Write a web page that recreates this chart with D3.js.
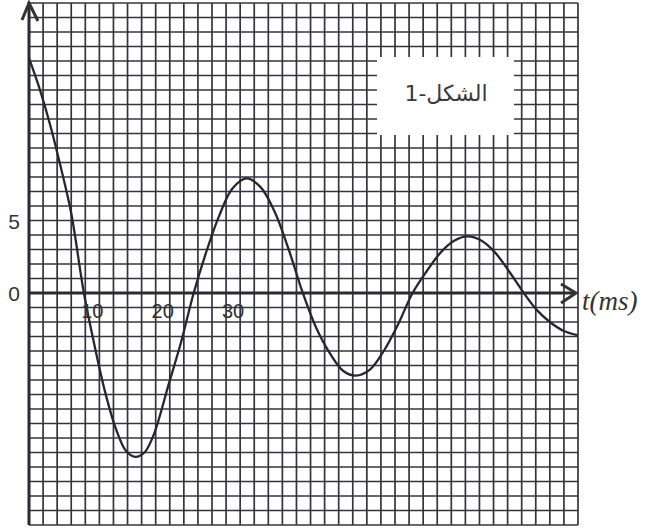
<!DOCTYPE html>
<html><head><meta charset="utf-8">
<script src="https://cdn.jsdelivr.net/npm/d3@7"></script>
<style>
html,body{margin:0;padding:0;background:#fff;}
svg{display:block;}
</style></head>
<body>
<script>
// ---- data ----
const tValues = [0, 1.5, 3.0, 4.5, 6.0, 7.8, 9.3, 10.8, 12.3, 13.8, 15.1, 16.4, 17.7, 19.9, 21.6, 23.4,
  25.3, 27.0, 28.9, 30.9, 32.9, 34.9, 36.9, 38.9, 40.8, 42.8, 44.7, 46.4, 48.4, 50.4, 52.4, 54.5,
  56.5, 58.5, 60.4, 62.3, 64.3, 66.2, 68.2, 70.3, 72.2, 74.0, 75.9, 77.9];
const vValues = [16.2, 14.1, 11.6, 8.7, 5.5, 0, -3.6, -6.8, -9.3, -10.9, -11.3, -11.0, -9.8, -6.2, -3.4, 0,
  3.0, 5.3, 7.2, 7.9, 7.3, 5.6, 3.0, 0, -2.4, -4.2, -5.4, -5.7, -5.3, -4.0, -2.2, 0,
  1.5, 2.8, 3.6, 3.9, 3.6, 2.8, 1.5, 0, -1.2, -2.0, -2.6, -2.9];
const xTickLabels = ["10", "20", "30"];
const xTickValues = [10, 20, 30];
const yTickLabels = ["5", "0"];
const yTickValues = [5, 0];
const xAxisTitle = "t(ms)";
const figureLabel = "الشكل-1";

// ---- layout ----
const W = 653, H = 530;
const svg = d3.select("body").append("svg").attr("width", W).attr("height", H);
svg.append("rect").attr("width", W).attr("height", H).attr("fill", "#fff");

const x = d3.scaleLinear().domain([0, 78]).range([29, 578]);
const y = d3.scaleLinear().domain([-16, 20]).range([525, 3]);

const gridColor = "#34343e";
const grid = svg.append("g");
grid.selectAll("line.v").data(d3.range(0, 78.01, 2)).join("line")
  .attr("x1", d => x(d)).attr("x2", d => x(d))
  .attr("y1", y(20)).attr("y2", y(-16))
  .attr("stroke", gridColor).attr("stroke-width", 1.7);
grid.selectAll("line.h").data(d3.range(-16, 20.01, 1)).join("line")
  .attr("x1", x(0)).attr("x2", x(78))
  .attr("y1", d => y(d)).attr("y2", d => y(d))
  .attr("stroke", gridColor).attr("stroke-width", 1.7);

// white label box
svg.append("rect").attr("x", 377).attr("y", 57).attr("width", 137).attr("height", 78).attr("fill", "#fff");
svg.append("text").attr("x", 446).attr("y", 101)
  .attr("text-anchor", "middle").attr("direction", "rtl")
  .style("font-family", "'DejaVu Sans', 'Noto Sans', sans-serif").style("font-size", "22px").attr("fill", "#3a3a3a")
  .text(figureLabel);

// axes
const axisColor = "#2a2a35";
svg.append("line").attr("x1", x(0)).attr("x2", x(0)).attr("y1", y(-16)).attr("y2", y(20) - 1)
  .attr("stroke", axisColor).attr("stroke-width", 3);
svg.append("line").attr("x1", x(0)).attr("x2", x(78) - 2).attr("y1", y(0)).attr("y2", y(0))
  .attr("stroke", axisColor).attr("stroke-width", 3);
svg.append("path").attr("d", `M${x(0) - 7},${y(20) + 17} L${x(0)},${y(20)} L${x(0) + 9},${y(20) + 18}`)
  .attr("fill", "none").attr("stroke", "#333").attr("stroke-width", 3);
svg.append("path").attr("d", `M${x(78) - 17},${y(0) - 9} L${x(78) - 2},${y(0)} L${x(78) - 17},${y(0) + 10}`)
  .attr("fill", "none").attr("stroke", "#333").attr("stroke-width", 3);

// curve
const pts = tValues.map((t, i) => [t, vValues[i]]);
svg.append("path").datum(pts)
  .attr("d", d3.line().x(d => x(d[0])).y(d => y(d[1])).curve(d3.curveCatmullRom.alpha(0.5)))
  .attr("fill", "none").attr("stroke", "#26262e").attr("stroke-width", 2.3);

// tick labels
const lblFont = "'Liberation Sans', Arial, sans-serif";
svg.selectAll("text.xt").data(xTickValues).join("text")
  .attr("x", d => x(d) + 4).attr("y", 318).attr("text-anchor", "end")
  .style("font-family", lblFont).style("font-size", "20px").attr("fill", "#333")
  .text((d, i) => xTickLabels[i]);
svg.selectAll("text.yt").data(yTickValues).join("text")
  .attr("x", 14).attr("y", d => y(d) + 8).attr("text-anchor", "middle")
  .style("font-family", lblFont).style("font-size", "21px").attr("fill", "#333")
  .text((d, i) => yTickLabels[i]);

svg.append("text").attr("x", 582).attr("y", 310)
  .style("font-family", "'Liberation Serif', 'Times New Roman', serif").style("font-style", "italic")
  .style("font-size", "27px").attr("fill", "#333").text(xAxisTitle);
</script>
</body></html>
